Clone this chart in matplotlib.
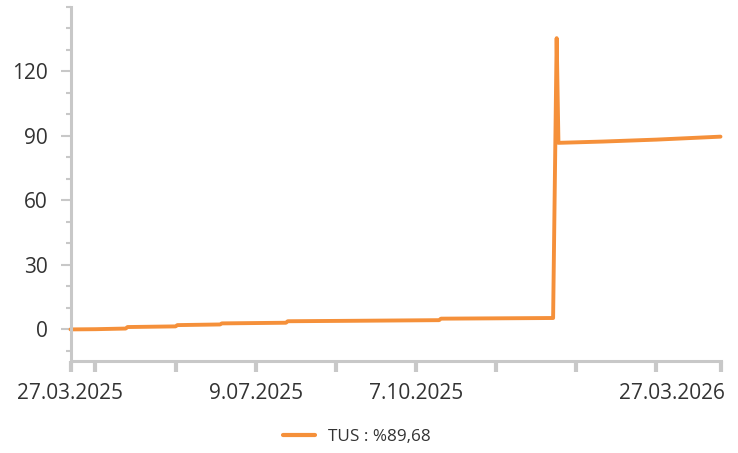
import matplotlib
matplotlib.use("Agg")
import matplotlib.pyplot as plt
import matplotlib.dates as mdates
from matplotlib.ticker import MultipleLocator, FixedLocator
from matplotlib.transforms import ScaledTranslation

# ---- data ----
dates = ["2025-03-27", "2025-04-10", "2025-04-27", "2025-04-28", "2025-05-25",
         "2025-05-26", "2025-06-19", "2025-06-20", "2025-07-26", "2025-07-27",
         "2025-09-01", "2025-10-20", "2025-10-21", "2025-12-22", "2025-12-23",
         "2025-12-25", "2025-12-26", "2026-01-20", "2026-02-19", "2026-03-27"]
values = [0.0, 0.1, 0.4, 1.1, 1.4,
          2.0, 2.3, 2.8, 3.1, 3.8,
          4.0, 4.3, 5.0, 5.3, 5.3,
          135.5, 86.8, 87.4, 88.3, 89.68]
series_label = "TUS : %89,68"

tick_dates = ["2025-03-27", "2025-04-10", "2025-05-25", "2025-07-09", "2025-08-23",
              "2025-10-07", "2025-11-21", "2026-01-05", "2026-02-19", "2026-03-27"]
tick_labels = ["27.03.2025", "", "", "9.07.2025", "", "7.10.2025", "", "", "", "27.03.2026"]
y_major = [0, 30, 60, 90, 120]

plt.rcParams['font.family'] = ['Open Sans', 'DejaVu Sans']

fig = plt.figure(figsize=(7.38, 4.53), dpi=100)
ax = fig.add_axes([70.5/738, 1-361/453, 650/738, (361-7)/453])

x = mdates.datestr2num(dates)
ax.plot(x, values, color='#F5903A', lw=2.8, solid_joinstyle='round',
        solid_capstyle='round', label=series_label, clip_on=False)

ax.set_xlim(mdates.datestr2num("2025-03-27"), mdates.datestr2num("2026-03-27"))
ax.set_ylim(-14.7, 150)

ax.xaxis.set_major_locator(FixedLocator(mdates.datestr2num(tick_dates)))
ax.set_xticklabels(tick_labels)
ax.yaxis.set_major_locator(FixedLocator(y_major))
ax.yaxis.set_minor_locator(MultipleLocator(10))

for s in ['top', 'right']:
    ax.spines[s].set_visible(False)
for s in ['left', 'bottom']:
    ax.spines[s].set_color('#C8C8C8')
    ax.spines[s].set_linewidth(2.2)

ax.tick_params(axis='y', which='major', length=7.2, width=1.5, color='#C8C8C8',
               labelsize=15, labelcolor='#333333', pad=9)
ax.tick_params(axis='y', which='minor', length=3.6, width=1.5, color='#C8C8C8')
ax.tick_params(axis='x', which='major', length=8, width=3, color='#C8C8C8',
               labelsize=15, labelcolor='#333333', pad=8)

labels = ax.get_xticklabels()
labels[-1].set_horizontalalignment('right')
labels[-1].set_transform(labels[-1].get_transform() + ScaledTranslation(4/100, 0, fig.dpi_scale_trans))

leg = fig.legend(loc='center', bbox_to_anchor=(357/738, 1-437/453), frameon=False,
                 fontsize=12.3, handlelength=1.85, handletextpad=0.8,
                 labelcolor='#333333')
for h in leg.get_lines():
    h.set_linewidth(3)

fig.savefig("out.png", dpi=100)
